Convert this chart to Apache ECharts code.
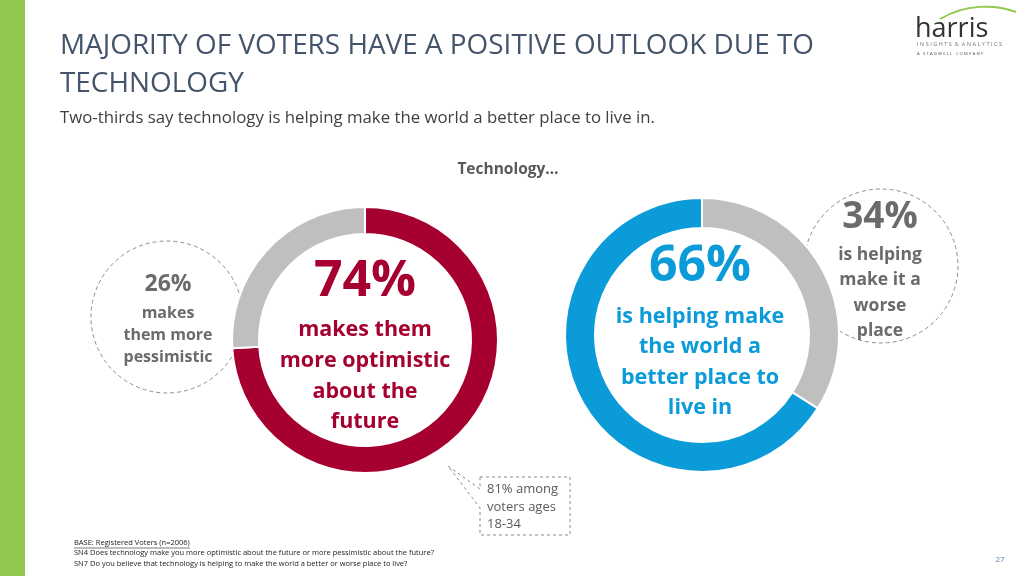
<!DOCTYPE html>
<html>
<head>
<meta charset="utf-8">
<script src="https://cdn.jsdelivr.net/npm/echarts@6/dist/echarts.min.js"></script>
<style>
html,body{margin:0;padding:0;background:#fff;}
#chart{width:1024px;height:576px;}
</style>
</head>
<body>
<div id="chart"></div>
<script>
// ---- data ----
const optimismLabels = ['More optimistic', 'More pessimistic'];
const optimismValues = [74, 26];
const worldLabels = ['Worse place', 'Better place'];
const worldValues = [34, 66];
const callout = '81% among\nvoters ages\n18-34';

const FONT = '"Open Sans", "Noto Sans", sans-serif';
const RED = '#a5002f', BLUE = '#0a9bd8', GRAY = '#bfbfbf', TXTGRAY = '#6b6b6b';

const chart = echarts.init(document.getElementById('chart'), null, {renderer: 'canvas'});

function txt(x, y, text, size, color, weight, align, extra) {
  return Object.assign({
    type: 'text', x: x, y: y, z: 10,
    style: Object.assign({text: text, fill: color, font: (weight || 'normal') + ' ' + size + 'px ' + FONT,
      textAlign: align || 'left', textVerticalAlign: 'middle'}, extra || {})
  });
}

const graphics = [
  {type: 'rect', shape: {x: 0, y: 0, width: 25, height: 576}, style: {fill: '#92c84f'}},
  txt(60, 46, 'MAJORITY OF VOTERS HAVE A POSITIVE OUTLOOK DUE TO', 27.9, '#44546a'),
  txt(60, 84, 'TECHNOLOGY', 27.9, '#44546a'),
  txt(60, 118, 'Two-thirds say technology is helping make the world a better place to live in.', 16.8, '#404040'),
  txt(508, 170, 'Technology…', 15.5, '#595959', 'bold', 'center'),
  // logo
  {type: 'bezierCurve', shape: {x1: 940, y1: 19, x2: 1016, y2: 12, cpx1: 965, cpy1: 4, cpx2: 995, cpy2: 4}, style: {stroke: '#92c84f', lineWidth: 2, fill: null}},
  txt(915, 29, 'harris', 27, '#333', 'normal', 'left', {font: '27px "Liberation Sans Narrow", "Open Sans", sans-serif'}),
  txt(917, 44, 'I N S I G H T S  &  A N A L Y T I C S', 5.6, '#777'),
  txt(917, 54, 'A   S T A G W E L L   C O M P A N Y', 4.3, '#555'),
  // dashed circles
  {type: 'circle', shape: {cx: 167, cy: 317, r: 76}, style: {fill: null, stroke: '#8c8c8c', lineWidth: 1, lineDash: [4, 3]}},
  {type: 'circle', shape: {cx: 881, cy: 266, r: 77}, style: {fill: null, stroke: '#8c8c8c', lineWidth: 1, lineDash: [4, 3]}},
  // callout box
  {type: 'polyline', shape: {points: [[480, 477], [570, 477], [570, 535], [480, 535], [480, 508], [448, 466], [480, 489], [480, 477]]},
    style: {fill: '#fff', stroke: '#8c8c8c', lineWidth: 1, lineDash: [3, 3]}, z: 5},
  txt(487, 489, callout.split('\n')[0], 13, '#595959'),
  txt(487, 507, callout.split('\n')[1], 13, '#595959'),
  txt(487, 524, callout.split('\n')[2], 13, '#595959'),
  // left donut center text
  txt(365, 282, optimismValues[0] + '%', 50, RED, 'bold', 'center'),
  txt(365, 330, 'makes them', 21.5, RED, 'bold', 'center'),
  txt(365, 361, 'more optimistic', 21.5, RED, 'bold', 'center'),
  txt(365, 392, 'about the', 21.5, RED, 'bold', 'center'),
  txt(365, 422, 'future', 21.5, RED, 'bold', 'center'),
  // right donut center text
  txt(700, 267, worldValues[1] + '%', 50, BLUE, 'bold', 'center'),
  txt(700, 317, 'is helping make', 21.5, BLUE, 'bold', 'center'),
  txt(700, 347, 'the world a', 21.5, BLUE, 'bold', 'center'),
  txt(700, 378, 'better place to', 21.5, BLUE, 'bold', 'center'),
  txt(700, 408, 'live in', 21.5, BLUE, 'bold', 'center'),
  // left circle text
  txt(168, 284, optimismValues[1] + '%', 23, TXTGRAY, 'bold', 'center'),
  txt(168, 313, 'makes', 16, TXTGRAY, 'bold', 'center'),
  txt(168, 335, 'them more', 16, TXTGRAY, 'bold', 'center'),
  txt(168, 357, 'pessimistic', 16, TXTGRAY, 'bold', 'center'),
  // right circle text
  txt(880, 217, worldValues[0] + '%', 37, TXTGRAY, 'bold', 'center'),
  txt(880, 255, 'is helping', 17.5, TXTGRAY, 'bold', 'center'),
  txt(880, 280, 'make it a', 17.5, TXTGRAY, 'bold', 'center'),
  txt(880, 306, 'worse', 17.5, TXTGRAY, 'bold', 'center'),
  txt(880, 331, 'place', 17.5, TXTGRAY, 'bold', 'center'),
  // footnotes
  txt(74, 543, 'BASE: Registered Voters (n=2006)', 7.5, '#222'),
  {type: 'line', shape: {x1: 74, y1: 548, x2: 190, y2: 548}, style: {stroke: '#222', lineWidth: 0.6}},
  txt(74, 553, 'SN4 Does technology make you more optimistic about the future or more pessimistic about the future?', 7.5, '#222'),
  txt(74, 564, 'SN7 Do you believe that technology is helping to make the world a better or worse place to live?', 7.5, '#222'),
  txt(1000, 560, '27', 8, '#5b7fa6', 'normal', 'center')
];

chart.setOption({
  animation: false,
  backgroundColor: '#fff',
  graphic: graphics,
  series: [
    {
      type: 'pie', center: [365, 340], radius: [106, 133], startAngle: 90, clockwise: true,
      silent: true, label: {show: false}, labelLine: {show: false},
      itemStyle: {borderColor: '#fff', borderWidth: 2},
      data: optimismLabels.map((n, i) => ({name: n, value: optimismValues[i], itemStyle: {color: i === 0 ? RED : GRAY}}))
    },
    {
      type: 'pie', center: [702, 335], radius: [107, 137], startAngle: 90, clockwise: true,
      silent: true, label: {show: false}, labelLine: {show: false},
      itemStyle: {borderColor: '#fff', borderWidth: 2},
      data: worldLabels.map((n, i) => ({name: n, value: worldValues[i], itemStyle: {color: i === 0 ? GRAY : BLUE}}))
    }
  ]
});
</script>
</body>
</html>
